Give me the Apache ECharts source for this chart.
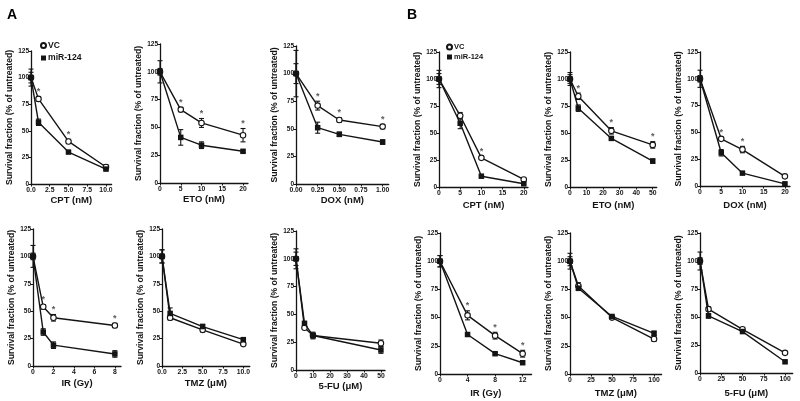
<!DOCTYPE html>
<html><head><meta charset="utf-8">
<script src="https://cdn.jsdelivr.net/npm/echarts@6/dist/echarts.min.js"></script>
<style>html,body{margin:0;padding:0;background:#fff}#c{width:800px;height:401px}</style>
</head><body><div id="c"></div>
<script>
// ---------- data ----------
const yTicks = [0, 25, 50, 75, 100, 125];
const yTitle = 'Survival fraction (% of untreated)';
const seriesNames = ['VC', 'miR-124'];

// Panel A
const a1_x = [0, 1, 5, 10];      const a1_vc = [100, 80, 40, 16];   const a1_vcErr = [8, 2, 2, 2];  const a1_mir = [100, 58, 30, 14];  const a1_mirErr = [5, 3, 1, 1];  const a1_stars = [1, 5];
const a1_ticks = [0, 2.5, 5, 7.5, 10];
const a2_x = [0, 5, 10, 20];     const a2_vc = [100, 66, 54, 43];   const a2_vcErr = [10, 2, 4, 6]; const a2_mir = [100, 41, 34, 28.5]; const a2_mirErr = [3, 7, 3, 1]; const a2_stars = [5, 10, 20];
const a2_ticks = [0, 5, 10, 15, 20];
const a3_x = [0, 0.25, 0.5, 1];  const a3_vc = [100, 71, 58, 52];   const a3_vcErr = [21, 4, 2, 2]; const a3_mir = [100, 51, 45, 38];  const a3_mirErr = [9, 5, 2, 2];  const a3_stars = [0.25, 0.5, 1];
const a3_ticks = [0, 0.25, 0.5, 0.75, 1];
const a4_x = [0, 1, 2, 8];       const a4_vc = [100, 54, 44, 37];   const a4_vcErr = [10, 2, 3, 2]; const a4_mir = [100, 31, 19, 11];  const a4_mirErr = [3, 3, 3, 3];  const a4_stars = [1, 2, 8];
const a4_ticks = [0, 2, 4, 6, 8];
const a5_x = [0, 1, 5, 10];      const a5_vc = [100, 44, 33, 20];   const a5_vcErr = [6, 2, 2, 1];  const a5_mir = [100, 48, 36, 24];  const a5_mirErr = [6, 5, 2, 2];  const a5_stars = [];
const a5_ticks = [0, 2.5, 5, 7.5, 10];
const a6_x = [0, 5, 10, 50];     const a6_vc = [100, 38, 31, 24];   const a6_vcErr = [9, 1, 2, 3];  const a6_mir = [100, 42, 31, 18];  const a6_mirErr = [6, 1, 3, 3];  const a6_stars = [];
const a6_ticks = [0, 10, 20, 30, 40, 50];

// Panel B
const b1_x = [0, 5, 10, 20];     const b1_vc = [100, 66, 27, 7];    const b1_vcErr = [8, 3, 1, 1];  const b1_mir = [100, 59, 10, 3];   const b1_mirErr = [5, 5, 1, 1];  const b1_stars = [10];
const b1_ticks = [0, 5, 10, 15, 20];
const b2_x = [0, 5, 25, 50];     const b2_vc = [100, 84, 52, 39];   const b2_vcErr = [6, 3, 3, 3];  const b2_mir = [100, 73, 45, 24];  const b2_mirErr = [4, 3, 1, 2];  const b2_stars = [5, 25, 50];
const b2_ticks = [0, 10, 20, 30, 40, 50];
const b3_x = [0, 5, 10, 20];     const b3_vc = [100, 44, 34, 9];    const b3_vcErr = [8, 1, 3, 1];  const b3_mir = [100, 31, 12, 2];   const b3_mirErr = [3, 3, 1, 1];  const b3_stars = [5, 10];
const b3_ticks = [0, 5, 10, 15, 20];
const b4_x = [0, 4, 8, 12];      const b4_vc = [100, 52, 34, 18];   const b4_vcErr = [5, 4, 3, 3];  const b4_mir = [100, 35, 18, 10];  const b4_mirErr = [5, 1, 1, 1];  const b4_stars = [4, 8, 12];
const b4_ticks = [0, 4, 8, 12];
const b5_x = [0, 10, 50, 100];   const b5_vc = [100, 78, 50, 31];   const b5_vcErr = [7, 3, 1, 2];  const b5_mir = [100, 76, 51, 36];  const b5_mirErr = [4, 2, 1, 2];  const b5_stars = [];
const b5_ticks = [0, 25, 50, 75, 100];
const b6_x = [0, 10, 50, 100];   const b6_vc = [100, 57, 39, 18];   const b6_vcErr = [8, 2, 1, 1];  const b6_mir = [100, 51, 37, 10];  const b6_mirErr = [3, 2, 1, 1];  const b6_stars = [];
const b6_ticks = [0, 25, 50, 75, 100];

const xTitles = ['CPT (nM)', 'ETO (nM)', 'DOX (nM)', 'IR (Gy)', 'TMZ (\u03bcM)', '5-FU (\u03bcM)',
                 'CPT (nM)', 'ETO (nM)', 'DOX (nM)', 'IR (Gy)', 'TMZ (\u03bcM)', '5-FU (\u03bcM)'];

// ---------- layout (pixels) ----------
const panels = [
  {x:a1_x, vc:a1_vc, vcE:a1_vcErr, mir:a1_mir, mirE:a1_mirErr, stars:a1_stars, ticks:a1_ticks, dec:1, xmax:10.75, g:[31,51,80.6,133],  yGap:14, xGap:10.5},
  {x:a2_x, vc:a2_vc, vcE:a2_vcErr, mir:a2_mir, mirE:a2_mirErr, stars:a2_stars, ticks:a2_ticks, dec:0, xmax:21.2,  g:[160,44,88,139],   yGap:12, xGap:11},
  {x:a3_x, vc:a3_vc, vcE:a3_vcErr, mir:a3_mir, mirE:a3_mirErr, stars:a3_stars, ticks:a3_ticks, dec:2, xmax:1.07,  g:[296,46,92.7,138], yGap:15.5, xGap:10.5},
  {x:a4_x, vc:a4_vc, vcE:a4_vcErr, mir:a4_mir, mirE:a4_mirErr, stars:a4_stars, ticks:a4_ticks, dec:0, xmax:8.6,   g:[33,229,88,137],   yGap:9,    xGap:12.5},
  {x:a5_x, vc:a5_vc, vcE:a5_vcErr, mir:a5_mir, mirE:a5_mirErr, stars:a5_stars, ticks:a5_ticks, dec:1, xmax:10.8,  g:[162,229,87.8,137],yGap:14.5, xGap:12.5},
  {x:a6_x, vc:a6_vc, vcE:a6_vcErr, mir:a6_mir, mirE:a6_mirErr, stars:a6_stars, ticks:a6_ticks, dec:0, xmax:52.4,  g:[296,231,89,139],  yGap:15.5, xGap:11},
  {x:b1_x, vc:b1_vc, vcE:b1_vcErr, mir:b1_mir, mirE:b1_mirErr, stars:b1_stars, ticks:b1_ticks, dec:0, xmax:21,    g:[439,52,89,135],   yGap:11, xGap:13.5},
  {x:b2_x, vc:b2_vc, vcE:b2_vcErr, mir:b2_mir, mirE:b2_mirErr, stars:b2_stars, ticks:b2_ticks, dec:0, xmax:52.4,  g:[570,52,86.7,135], yGap:11.5, xGap:13.5},
  {x:b3_x, vc:b3_vc, vcE:b3_vcErr, mir:b3_mir, mirE:b3_mirErr, stars:b3_stars, ticks:b3_ticks, dec:0, xmax:21.2,  g:[700,52,90,134],   yGap:12.5, xGap:14},
  {x:b4_x, vc:b4_vc, vcE:b4_vcErr, mir:b4_mir, mirE:b4_mirErr, stars:b4_stars, ticks:b4_ticks, dec:0, xmax:13.3,  g:[440,233,91.6,141],yGap:11.5, xGap:14},
  {x:b5_x, vc:b5_vc, vcE:b5_vcErr, mir:b5_mir, mirE:b5_mirErr, stars:b5_stars, ticks:b5_ticks, dec:0, xmax:109,   g:[570,233,91.6,141],yGap:11, xGap:14},
  {x:b6_x, vc:b6_vc, vcE:b6_vcErr, mir:b6_mir, mirE:b6_mirErr, stars:b6_stars, ticks:b6_ticks, dec:0, xmax:109,   g:[700,233,92.7,140],yGap:11, xGap:15}
];

const FONT = 'Liberation Sans, Arial, sans-serif';
const INK = '#141414';

function errRender(params, api) {
  const x = api.value(0), lo = api.value(1), hi = api.value(2);
  const a = api.coord([x, lo]), b = api.coord([x, hi]);
  const w = 2.5;
  const st = {stroke: INK, lineWidth: 1.1};
  return {type: 'group', children: [
    {type: 'line', shape: {x1: a[0], y1: a[1], x2: b[0], y2: b[1]}, style: st},
    {type: 'line', shape: {x1: b[0] - w, y1: b[1], x2: b[0] + w, y2: b[1]}, style: st},
    {type: 'line', shape: {x1: a[0] - w, y1: a[1], x2: a[0] + w, y2: a[1]}, style: st}
  ]};
}

const grid = [], xAxis = [], yAxis = [], series = [];
panels.forEach((p, i) => {
  grid.push({left: p.g[0], top: p.g[1], width: p.g[2], height: p.g[3], containLabel: false});
  xAxis.push({
    type: 'value', gridIndex: i, min: 0, max: p.xmax,
    name: xTitles[i], nameLocation: 'middle', nameGap: p.xGap,
    nameTextStyle: {fontFamily: FONT, fontSize: 9.5, fontWeight: 'bold', color: INK},
    axisLine: {show: true, onZero: false, lineStyle: {color: INK, width: 1.3}},
    axisTick: {show: true, length: 2.5, customValues: p.ticks, lineStyle: {color: INK, width: 1}},
    axisLabel: {customValues: p.ticks, margin: 3, fontFamily: FONT, fontSize: 6.8, fontWeight: 'bold', color: INK,
                formatter: v => Number(v).toFixed(p.dec)},
    splitLine: {show: false}
  });
  yAxis.push({
    type: 'value', gridIndex: i, min: yTicks[0], max: yTicks[yTicks.length - 1], interval: 25,
    name: yTitle, nameLocation: 'middle', nameGap: p.yGap, nameRotate: 90,
    nameTextStyle: {fontFamily: FONT, fontSize: 8.6, fontWeight: 'bold', color: INK},
    axisLine: {show: true, onZero: false, lineStyle: {color: INK, width: 1.3}},
    axisTick: {show: true, length: 2.5, lineStyle: {color: INK, width: 1}},
    axisLabel: {margin: 2, fontFamily: FONT, fontSize: 6.5, fontWeight: 'bold', color: INK},
    splitLine: {show: false}
  });
  const errVC = p.x.map((v, j) => [v, p.vc[j] - p.vcE[j], p.vc[j] + p.vcE[j]]);
  const errMir = p.x.map((v, j) => [v, p.mir[j] - p.mirE[j], p.mir[j] + p.mirE[j]]);
  series.push({type: 'custom', xAxisIndex: i, yAxisIndex: i, renderItem: errRender, data: errVC, encode: {x: 0, y: [1, 2]}, silent: true, z: 1});
  series.push({type: 'custom', xAxisIndex: i, yAxisIndex: i, renderItem: errRender, data: errMir, encode: {x: 0, y: [1, 2]}, silent: true, z: 1});
  series.push({
    name: seriesNames[0], type: 'line', xAxisIndex: i, yAxisIndex: i,
    data: p.x.map((v, j) => [v, p.vc[j]]),
    symbol: 'circle', symbolSize: 5.5, showAllSymbol: true,
    itemStyle: {color: '#fff', borderColor: INK, borderWidth: 1.1},
    lineStyle: {color: INK, width: 1.4}, z: 3
  });
  series.push({
    name: seriesNames[1], type: 'line', xAxisIndex: i, yAxisIndex: i,
    data: p.x.map((v, j) => [v, p.mir[j]]),
    symbol: 'rect', symbolSize: 5.5, showAllSymbol: true,
    itemStyle: {color: INK},
    lineStyle: {color: INK, width: 1.4}, z: 4
  });
  if (p.stars.length) {
    series.push({
      type: 'scatter', xAxisIndex: i, yAxisIndex: i, symbolSize: 1,
      itemStyle: {color: 'rgba(0,0,0,0)'},
      data: p.stars.map(sx => { const j = p.x.indexOf(sx); return [sx, p.vc[j] + p.vcE[j]]; }),
      label: {show: true, formatter: '*', position: 'top', distance: 0, fontFamily: FONT, fontSize: 9, fontWeight: 'bold', color: '#333'},
      silent: true, z: 5
    });
  }
});

const chart = echarts.init(document.getElementById('c'), null, {renderer: 'canvas'});
chart.setOption({
  animation: false,
  backgroundColor: '#fff',
  title: [
    {text: 'A', left: 2, top: 3, textStyle: {fontFamily: FONT, fontSize: 14, fontWeight: 'bold', color: '#000'}},
    {text: 'B', left: 402, top: 3, textStyle: {fontFamily: FONT, fontSize: 14, fontWeight: 'bold', color: '#000'}}
  ],
  legend: [
    {left: 35, top: 36, orient: 'vertical', itemWidth: 5, itemHeight: 5, itemGap: 3.5, selectedMode: false,
     data: [{name: 'VC', icon: 'circle'}, {name: 'miR-124', icon: 'rect'}],
     textStyle: {fontFamily: FONT, fontSize: 8.6, fontWeight: 'bold', color: INK, padding: [0, 0, 0, -3]}},
    {left: 441, top: 38, orient: 'vertical', itemWidth: 5, itemHeight: 5, itemGap: 2, selectedMode: false,
     data: [{name: 'VC', icon: 'circle'}, {name: 'miR-124', icon: 'rect'}],
     textStyle: {fontFamily: FONT, fontSize: 7.5, fontWeight: 'bold', color: INK, padding: [0, 0, 0, -3]}}
  ],
  grid, xAxis, yAxis, series
});
</script></body></html>
